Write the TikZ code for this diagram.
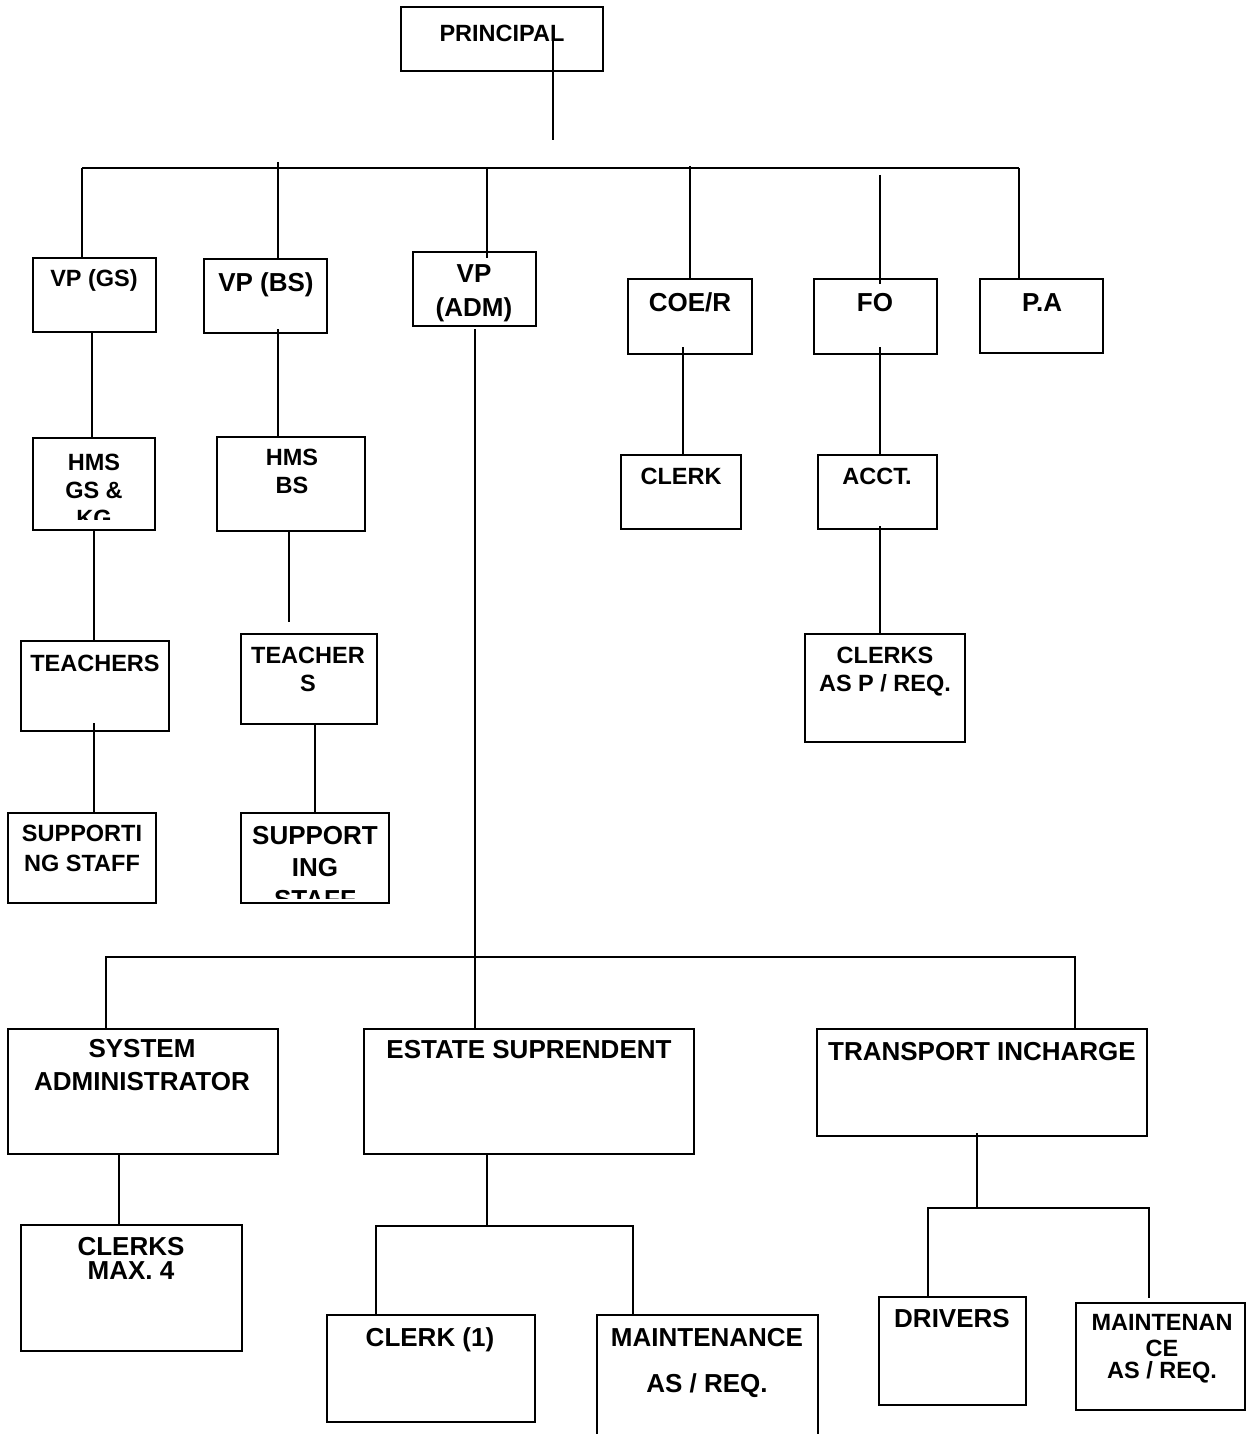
\documentclass[tikz,border=0pt]{standalone}
\usepackage{fontspec}
\setmainfont{Liberation Sans}
\begin{document}
\begin{tikzpicture}[x=1pt,y=-1pt,line width=1.8pt,
  box/.style={draw,rectangle,inner sep=0pt,outer sep=0pt,anchor=north west},
  t/.style={anchor=base,inner sep=0pt,font=\bfseries\fontsize{23.5}{28}\selectfont},
  T/.style={anchor=base,inner sep=0pt,font=\bfseries\fontsize{26}{31}\selectfont}]
\useasboundingbox (0,0) rectangle (1246,1434);
% ---------- boxes ----------
\node[box,minimum width=202pt,minimum height=64pt] (principal) at (401,7) {};
\node[box,minimum width=123pt,minimum height=74pt] (vpgs) at (33,258) {};
\node[box,minimum width=123pt,minimum height=74pt] (vpbs) at (204,259) {};
\node[box,minimum width=123pt,minimum height=74pt] (vpadm) at (413,252) {};
\node[box,minimum width=124pt,minimum height=75pt] (coer) at (628,279) {};
\node[box,minimum width=123pt,minimum height=75pt] (fo) at (814,279) {};
\node[box,minimum width=123pt,minimum height=74pt] (pa) at (980,279) {};
\node[box,minimum width=122pt,minimum height=92pt] (hmsgs) at (33,438) {};
\node[box,minimum width=148pt,minimum height=94pt] (hmsbs) at (217,437) {};
\node[box,minimum width=120pt,minimum height=74pt] (clerk) at (621,455) {};
\node[box,minimum width=119pt,minimum height=74pt] (acct) at (818,455) {};
\node[box,minimum width=160pt,minimum height=108pt] (clerks) at (805,634) {};
\node[box,minimum width=148pt,minimum height=90pt] (teachers) at (21,641) {};
\node[box,minimum width=136pt,minimum height=90pt] (teacher) at (241,634) {};
\node[box,minimum width=148pt,minimum height=90pt] (supa) at (8,813) {};
\node[box,minimum width=148pt,minimum height=90pt] (supb) at (241,813) {};
\node[box,minimum width=270pt,minimum height=125pt] (sysadm) at (8,1029) {};
\node[box,minimum width=330pt,minimum height=125pt] (estate) at (364,1029) {};
\node[box,minimum width=330pt,minimum height=107pt] (transport) at (817,1029) {};
\node[box,minimum width=221pt,minimum height=126pt] (clerksmax) at (21,1225) {};
\node[box,minimum width=208pt,minimum height=107pt] (clerkone) at (327,1315) {};
\node[box,minimum width=221pt,minimum height=135pt] (maint) at (597,1315) {};
\node[box,minimum width=147pt,minimum height=108pt] (drivers) at (879,1297) {};
\node[box,minimum width=169pt,minimum height=107pt] (mainttwo) at (1076,1303) {};
% ---------- texts ----------
\node[t] (tprincipal) at (502,41.4) {PRINCIPAL};
\node[t] (tvpgs) at (94,286.5) {VP (GS)};
\node[T] (tvpbs) at (266,291.3) {VP (BS)};
\node[T] (tvpadma) at (474,282.3) {VP};
\node[T] (tvpadmb) at (474,316.3) {(ADM)};
\node[T] (tcoer) at (690,311.3) {COE/R};
\node[T] (tfo) at (875,311.3) {FO};
\node[T] (tpa) at (1042,311.3) {P.A};
\node[t] (thmsa) at (94,470.4) {HMS};
\node[t] (thmsb) at (94,498.4) {GS \&};
\begin{scope}
  \clip (hmsgs.south west) ++(0,-11) rectangle (hmsgs.north east);
  \node[t] (thmsc) at (94,526.4) {KG};
\end{scope}
\node[t] (thmsbsa) at (292,465.4) {HMS};
\node[t] (thmsbsb) at (292,493.4) {BS};
\node[t] (tclerk) at (681,484) {CLERK};
\node[t] (tacct) at (877,484) {ACCT.};
\node[t] (tclerksa) at (885,663.4) {CLERKS};
\node[t] (tclerksb) at (885,691.4) {AS P / REQ.};
\node[t] (tteachers) at (95,671.4) {TEACHERS};
\node[t] (tsupaa) at (82,841.4) {SUPPORTI};
\node[t] (tsupab) at (82,871.4) {NG STAFF};
\node[t] (tteachera) at (308,663.4) {TEACHER};
\node[t] (tteacherb) at (308,691.4) {S};
\node[T] (tsupba) at (315,844.3) {SUPPORT};
\node[T] (tsupbb) at (315,876.3) {ING};
\begin{scope}
  \clip (supb.south west) ++(0,-5) rectangle (supb.north east);
  \node[T] (tsupbc) at (315,908.3) {STAFF};
\end{scope}
\node[T] (tsysa) at (142,1057.3) {SYSTEM};
\node[T] (tsysb) at (142,1090.3) {ADMINISTRATOR};
\node[T] (testate) at (529,1058.3) {ESTATE SUPRENDENT};
\node[T] (ttransport) at (982,1060.3) {TRANSPORT INCHARGE};
\node[T] (tclerksmaxa) at (131,1255.5) {CLERKS};
\node[T] (tclerksmaxb) at (131,1279) {MAX. 4};
\node[T] (tclerkone) at (430,1346.3) {CLERK (1)};
\node[T] (tmainta) at (707,1346.3) {MAINTENANCE};
\node[T] (tmaintb) at (707,1392.3) {AS / REQ.};
\node[T] (tdrivers) at (952,1327.3) {DRIVERS};
\node[t] (tmainttwoa) at (1162,1330.4) {MAINTENAN};
\node[t] (tmainttwob) at (1162,1356.4) {CE};
\node[t] (tmainttwoc) at (1162,1378.4) {AS / REQ.};
% ---------- connector points ----------
\coordinate (pin) at (553,27);
\coordinate (pout) at (553,140);
\coordinate (b1) at (82,168);
\coordinate (b2) at (278,162);
\coordinate (b3) at (487,168);
\coordinate (b4) at (690,166);
\coordinate (b5) at (880,175);
\coordinate (b6) at (1019,168);
\coordinate (fob) at (880,284);
\coordinate (vpadmin) at (487,258);
\coordinate (gsa) at (92,331);
\coordinate (bsa) at (278,329);
\coordinate (adma) at (475,329);
\coordinate (coera) at (683,347);
\coordinate (foa) at (880,347);
\coordinate (accta) at (880,526);
\coordinate (hmsgsa) at (94,530);
\coordinate (teachersa) at (94,723);
\coordinate (hmsbsa) at (289,531);
\coordinate (hmsbsb) at (289,622);
\coordinate (teachera) at (315,724);
\coordinate (l1) at (106,957);
\coordinate (l3) at (1075,957);
\coordinate (sysa) at (119,1154);
\coordinate (esta) at (487,1154);
\coordinate (estb) at (487,1226);
\coordinate (estl) at (376,1226);
\coordinate (estr) at (633,1226);
\coordinate (tra) at (977,1133);
\coordinate (trb) at (977,1208);
\coordinate (trl) at (928,1208);
\coordinate (trr) at (1149,1208);
\coordinate (trre) at (1149,1298);
% ---------- connectors ----------
\draw (pin) -- (pout);
\draw (b1) -- (b6);
\draw (b1) -- (b1 |- vpgs.north);
\draw (b2) -- (b2 |- vpbs.north);
\draw (b3) -- (vpadmin);
\draw (b4) -- (b4 |- coer.north);
\draw (b5) -- (fob);
\draw (b6) -- (b6 |- pa.north);
\draw (gsa) -- (gsa |- hmsgs.north);
\draw (bsa) -- (bsa |- hmsbs.north);
\draw (adma) -- (adma |- estate.north);
\draw (coera) -- (coera |- clerk.north);
\draw (foa) -- (foa |- acct.north);
\draw (accta) -- (accta |- clerks.north);
\draw (hmsgsa) -- (hmsgsa |- teachers.north);
\draw (teachersa) -- (teachersa |- supa.north);
\draw (hmsbsa) -- (hmsbsb);
\draw (teachera) -- (teachera |- supb.north);
\draw (l1 |- sysadm.north) -- (l1) -- (l3) -- (l3 |- transport.north);
\draw (sysa) -- (sysa |- clerksmax.north);
\draw (esta) -- (estb);
\draw (estl |- clerkone.north) -- (estl) -- (estr) -- (estr |- maint.north);
\draw (tra) -- (trb);
\draw (trl |- drivers.north) -- (trl) -- (trr) -- (trre);
\end{tikzpicture}
\end{document}
